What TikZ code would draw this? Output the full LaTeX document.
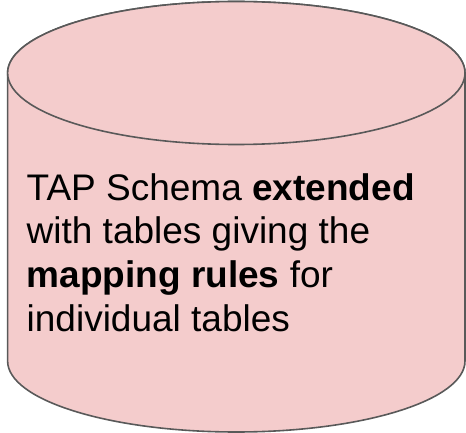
\documentclass[tikz,border=0pt]{standalone}
\usepackage{fontspec}
\setmainfont{Liberation Sans}
\definecolor{cylfill}{HTML}{F4CCCC}
\definecolor{cylline}{HTML}{595959}
\begin{document}
\begin{tikzpicture}[x=1pt,y=-1pt,
  cylbody/.style={fill=cylfill,draw=cylline,line width=1.6pt,line join=round},
  label/.style={inner sep=0pt,align=left,font=\fontsize{37}{43.9}\selectfont}]
  \useasboundingbox (0,0) rectangle (466,433);
  % cylinder body: sides and bottom rim
  \path[cylbody] (7.6,73) -- (7.6,361)
    arc[start angle=180,end angle=360,x radius=228.7,y radius=-71]
    -- (465,73)
    arc[start angle=0,end angle=180,x radius=228.7,y radius=-71.5] -- cycle;
  % top lid
  \path[cylbody] (236.3,73) ellipse[x radius=228.7,y radius=71.5];
  % caption; the base anchor sits on the last line
  \node[label,anchor=base west] (txt) at (26.5,331.7)
    {TAP Schema \textbf{extended}\\with tables giving the\\\textbf{mapping rules} for\\individual tables};
\end{tikzpicture}
\end{document}
